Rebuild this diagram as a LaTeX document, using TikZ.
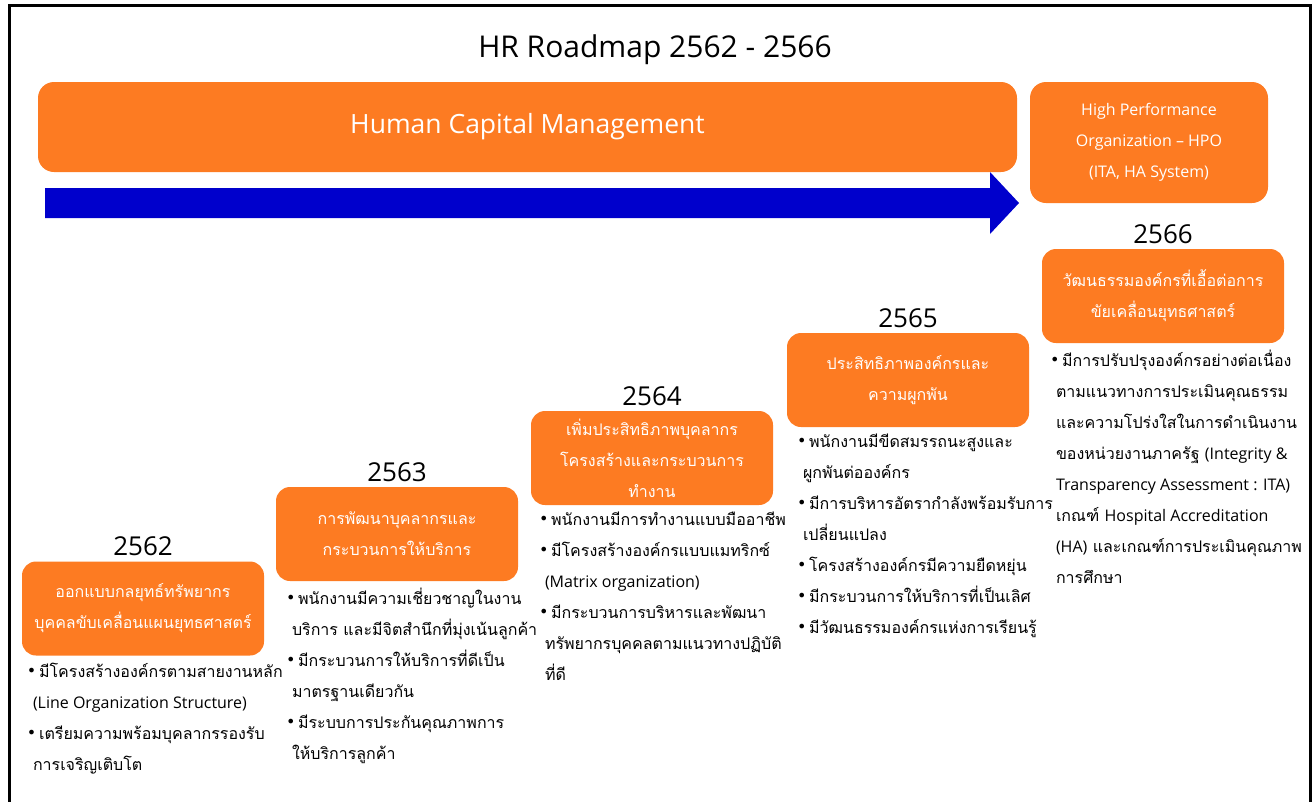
\documentclass[tikz,border=0pt]{standalone}
\usepackage{fontspec}
\setmainfont{Open Sans}
\newfontfamily\thai[Script=Thai]{Loma}
\newfontfamily\symfont{DejaVu Sans}
\usetikzlibrary{positioning}

\definecolor{hrorange}{HTML}{FD7B22}
\definecolor{hrblue}{HTML}{0000CC}

\newcommand{\bul}{{\symfont\fontsize{16}{16}\selectfont\raisebox{1pt}{•}}\,}
\newcommand{\cont}{\hspace*{6pt}}
\newcommand{\en}[1]{{\rmfamily\fontsize{16}{31}\selectfont #1}}

\begin{document}
\begin{tikzpicture}[x=1pt, y=-1pt,
  phase/.style={rounded corners=14pt, fill=hrorange, text=white, align=center,
    minimum width=242pt, minimum height=94pt, inner sep=2pt,
    font=\thai\fontsize{16}{31}\selectfont},
  year/.style={font=\fontsize{26}{26}\selectfont, inner sep=1pt},
  bullets/.style={align=left, anchor=north west, inner sep=0pt,
    font=\thai\fontsize{16}{31}\selectfont}]
\useasboundingbox (0,0) rectangle (1315,801);
\draw[line width=3pt] (9,830) -- (9,5) -- (1310,5) -- (1310,830);
%
\node[font=\fontsize{30}{30}\selectfont] (title) at (655,50) {HR Roadmap 2562 - 2566};
\node[rounded corners=16pt, fill=hrorange, text=white, minimum width=979pt,
  minimum height=90pt, font=\fontsize{26.5}{26.5}\selectfont] (hcm) at (527.5,127)
  {Human Capital Management};
\node[rounded corners=16pt, fill=hrorange, text=white, minimum width=238pt,
  minimum height=121pt, align=center, font=\fontsize{16}{31}\selectfont] (hpo)
  at (1149,142.5) {High Performance\\Organization -- HPO\\(ITA, HA System)};
\fill[hrblue] (45,188) -- (990,188) -- (990,172) -- (1019,203) -- (990,234)
  -- (990,218) -- (45,218) -- cycle;
%
\node[phase] (p62) at (143,608.5) {ออกแบบกลยุทธ์ทรัพยากร\\บุคคลขับเคลื่อนแผนยุทธศาสตร์};
\node[phase] (p63) at (397,534) {การพัฒนาบุคลากรและ\\กระบวนการให้บริการ};
\node[phase] (p64) at (652,458) {เพิ่มประสิทธิภาพบุคลากร\\โครงสร้างและกระบวนการ\\ทำงาน};
\node[phase] (p65) at (908,380) {ประสิทธิภาพองค์กรและ\\ความผูกพัน};
\node[phase] (p66) at (1163,296) {วัฒนธรรมองค์กรที่เอื้อต่อการ\\ขัยเคลื่อนยุทธศาสตร์};
%
\node[year, above=4pt of p62] (y62) {2562};
\node[year, above=4pt of p63] (y63) {2563};
\node[year, above=4pt of p64] (y64) {2564};
\node[year, above=4pt of p65] (y65) {2565};
\node[year, above=4pt of p66] (y66) {2566};
%
\node[bullets] (b62) at ([xshift=5pt, yshift=-7pt]p62.south west)
  {\bul มีโครงสร้างองค์กรตามสายงานหลัก\\
   \cont\en{(Line Organization Structure)}\\
   \bul เตรียมความพร้อมบุคลากรรองรับ\\
   \cont การเจริญเติบโต};
\node[bullets] (b63) at ([xshift=10pt, yshift=-7pt]p63.south west)
  {\bul พนักงานมีความเชี่ยวชาญในงาน\\
   \cont บริการ และมีจิตสำนึกที่มุ่งเน้นลูกค้า\\
   \bul มีกระบวนการให้บริการที่ดีเป็น\\
   \cont มาตรฐานเดียวกัน\\
   \bul มีระบบการประกันคุณภาพการ\\
   \cont ให้บริการลูกค้า};
\node[bullets] (b64) at ([xshift=8pt, yshift=-7pt]p64.south west)
  {\bul พนักงานมีการทำงานแบบมืออาชีพ\\
   \bul มีโครงสร้างองค์กรแบบแมทริกซ์\\
   \cont\en{(Matrix organization)}\\
   \bul มีกระบวนการบริหารและพัฒนา\\
   \cont ทรัพยากรบุคคลตามแนวทางปฏิบัติ\\
   \cont ที่ดี};
\node[bullets] (b65) at ([xshift=10pt, yshift=-7pt]p65.south west)
  {\bul พนักงานมีขีดสมรรถนะสูงและ\\
   \cont ผูกพันต่อองค์กร\\
   \bul มีการบริหารอัตรากำลังพร้อมรับการ\\
   \cont เปลี่ยนแปลง\\
   \bul โครงสร้างองค์กรมีความยืดหยุ่น\\
   \bul มีกระบวนการให้บริการที่เป็นเลิศ\\
   \bul มีวัฒนธรรมองค์กรแห่งการเรียนรู้};
\node[bullets] (b66) at ([xshift=8pt, yshift=-7pt]p66.south west)
  {\bul มีการปรับปรุงองค์กรอย่างต่อเนื่อง\\
   \cont ตามแนวทางการประเมินคุณธรรม\\
   \cont และความโปร่งใสในการดำเนินงาน\\
   \cont ของหน่วยงานภาครัฐ \en{(Integrity \&}\\
   \cont\en{Transparency Assessment : ITA)}\\
   \cont เกณฑ์ \en{Hospital Accreditation}\\
   \cont\en{(HA)} และเกณฑ์การประเมินคุณภาพ\\
   \cont การศึกษา};
\end{tikzpicture}
\end{document}
